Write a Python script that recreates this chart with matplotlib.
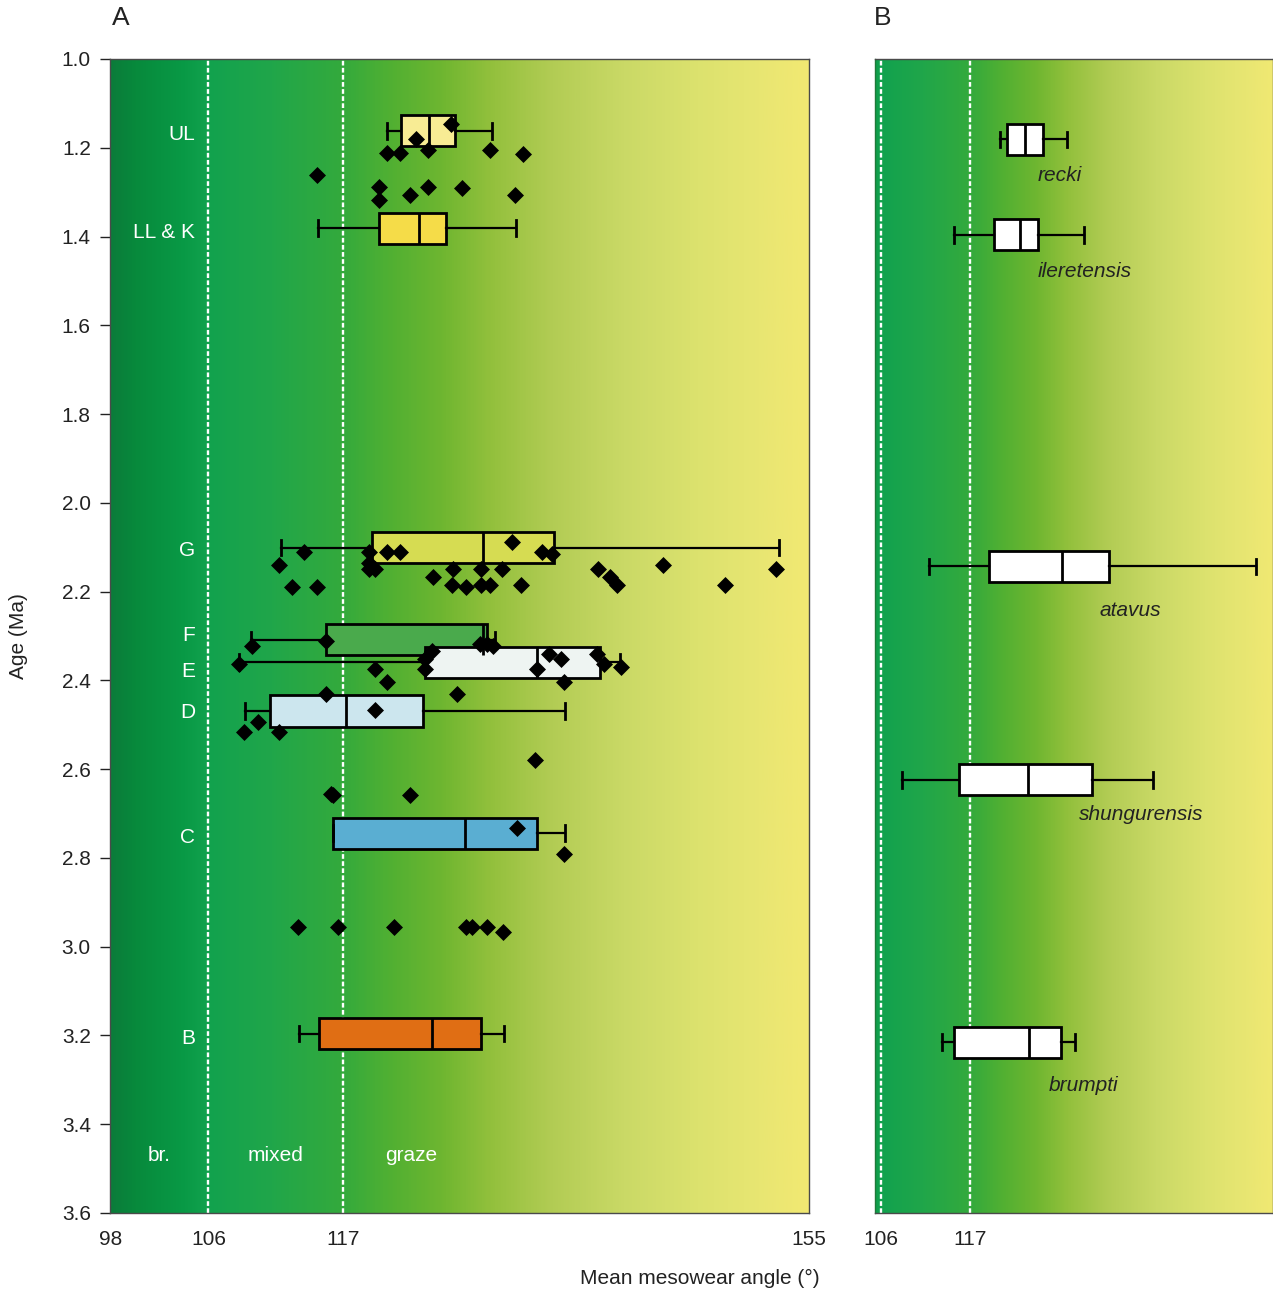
import numpy as np
import matplotlib
matplotlib.use("Agg")
import matplotlib.pyplot as plt
from matplotlib.colors import LinearSegmentedColormap

plt.rcParams['font.family'] = ['Liberation Sans', 'DejaVu Sans']

# --- mesowear summaries per member (panel A) ---
groups_a = ['UL', 'LL & K', 'G', 'F', 'E', 'D', 'C', 'B']
age_a = [1.162, 1.381, 2.101, 2.308, 2.359, 2.469, 2.744, 3.196]
whislo_a = [120.6, 114.9, 111.9, 109.5, 108.5, 109.0, 116.2, 113.4]
q1_a = [121.7, 119.9, 119.3, 115.6, 123.7, 111.0, 116.2, 115.0]
med_a = [124.0, 123.2, 128.4, 128.4, 132.8, 117.2, 126.9, 124.2]
q3_a = [126.1, 125.4, 134.2, 128.7, 137.9, 123.5, 132.8, 128.2]
whishi_a = [129.1, 131.1, 152.5, 129.4, 139.6, 135.1, 135.1, 130.1]
colors_a = ['#f8ec94', '#f5dc48', '#d6dc52', '#4aaa4c', '#eef4f2', '#cce6ee', '#5aaed2', '#e06e14']
label_age_a = [1.170, 1.390, 2.108, 2.298, 2.381, 2.473, 2.754, 3.207]

# individual samples
pts_angle = [125.78, 122.93, 120.59, 121.65, 123.93, 128.96, 131.68, 114.83, 119.89, 119.89,
             122.44, 123.93, 126.68, 130.98,
             113.82, 111.78, 112.79, 114.83, 119.12, 120.59, 121.62, 119.12, 119.12, 119.61,
             124.29, 125.92, 128.23, 129.97, 125.84, 126.98, 128.23, 128.96, 131.47, 130.73,
             133.18, 133.99, 137.74, 138.75, 139.29, 143.10, 148.13, 152.29,
             109.53, 115.59, 128.15, 128.69, 129.23, 124.21,
             108.52, 123.66, 123.66, 119.58, 120.59, 132.77, 133.77, 134.73, 137.71, 138.26,
             139.62, 135.02, 126.25,
             115.59, 119.58, 110.07, 108.93, 111.78,
             132.63, 116.19, 116.00, 122.44, 131.14, 135.02,
             113.28, 116.54, 121.13, 126.98, 127.52, 128.74, 129.99]
pts_age = [1.146, 1.181, 1.211, 1.211, 1.205, 1.205, 1.213, 1.261, 1.288, 1.318,
           1.306, 1.289, 1.290, 1.307,
           2.110, 2.139, 2.190, 2.190, 2.111, 2.111, 2.111, 2.136, 2.150, 2.150,
           2.168, 2.150, 2.150, 2.150, 2.185, 2.190, 2.185, 2.185, 2.185, 2.088,
           2.110, 2.115, 2.150, 2.167, 2.185, 2.139, 2.185, 2.150,
           2.322, 2.311, 2.317, 2.317, 2.322, 2.334,
           2.362, 2.351, 2.375, 2.375, 2.403, 2.375, 2.341, 2.352, 2.341, 2.362,
           2.369, 2.403, 2.431,
           2.431, 2.466, 2.493, 2.517, 2.517,
           2.579, 2.658, 2.655, 2.658, 2.733, 2.791,
           2.955, 2.955, 2.955, 2.955, 2.955, 2.955, 2.967]

# --- species summaries (panel B) ---
species = ['recki', 'ileretensis', 'atavus', 'shungurensis', 'brumpti']
age_b = [1.181, 1.396, 2.143, 2.624, 3.215]
whislo_b = [120.7, 115.0, 111.9, 108.6, 113.5]
q1_b = [121.6, 119.9, 119.3, 115.6, 115.0]
med_b = [123.8, 123.2, 128.3, 124.1, 124.3]
q3_b = [126.0, 125.4, 134.1, 132.1, 128.2]
whishi_b = [129.0, 131.0, 152.3, 139.6, 130.0]
label_x_b = [128.1, 131.1, 136.8, 138.1, 131.0]
label_age_b = [1.263, 1.479, 2.243, 2.702, 3.312]

diet_names = ['br.', 'mixed', 'graze']
diet_x = [102.0, 111.5, 122.5]
diet_bounds = [106, 117]

# browse -> graze background, coloured by angle
stops = [(98, '#0b7c3a'), (100, '#078a3c'), (104, '#099a46'), (106, '#12a24e'),
         (111, '#20a64a'), (117, '#34aa3c'), (121, '#52b032'), (125, '#6eb630'),
         (129, '#92c03c'), (134, '#b2cc54'), (140, '#cad966'), (146, '#dce26e'),
         (151, '#e8e672'), (155, '#f2e972')]
cmap = LinearSegmentedColormap.from_list(
    'diet', [((v - 98) / 57, c) for v, c in stops])


def shade(ax, x0, x1):
    xs = np.linspace(x0, x1, 600)
    ax.imshow(((xs - 98) / 57)[None, :], cmap=cmap, vmin=0, vmax=1, aspect='auto',
              extent=(x0, x1, 3.6, 1.0), zorder=0, interpolation='bilinear')
    for b in diet_bounds:
        ax.axvline(b, color='white', lw=1.7, ls=(0, (2, 1)), zorder=1)


def boxes(ax, ages, lo, q1, med, q3, hi, faces):
    stats = [dict(whislo=a, q1=b, med=c, q3=d, whishi=e, fliers=[])
             for a, b, c, d, e in zip(lo, q1, med, q3, hi)]
    bp = ax.bxp(stats, positions=ages, widths=0.07, orientation='horizontal',
                patch_artist=True, manage_ticks=False, showfliers=False,
                boxprops=dict(edgecolor='black', linewidth=2),
                medianprops=dict(color='black', linewidth=2),
                whiskerprops=dict(color='black', linewidth=1.6),
                capprops=dict(color='black', linewidth=2), zorder=3)
    for patch, fc in zip(bp['boxes'], faces):
        patch.set_facecolor(fc)


fig = plt.figure(figsize=(12.73, 12.91), dpi=100)
axA = fig.add_axes([110.3 / 1273, 1 - 1213 / 1291, 699 / 1273, 1154 / 1291])
axB = fig.add_axes([874.7 / 1273, 1 - 1213 / 1291, 398.3 / 1273, 1154 / 1291])

# panel A
shade(axA, 98, 155)
boxes(axA, age_a, whislo_a, q1_a, med_a, q3_a, whishi_a, colors_a)
axA.scatter(pts_angle, pts_age, marker='D', s=75, color='black', zorder=5, linewidths=0)
for name, y in zip(groups_a, label_age_a):
    axA.text(104.9, y, name, color='white', fontsize=15, ha='right', va='center', zorder=6)
for name, x in zip(diet_names, diet_x):
    axA.text(x, 3.47, name, color='white', fontsize=15, ha='center', va='center', zorder=6)

axA.set_xlim(98, 155)
axA.set_ylim(3.6, 1.0)
axA.set_xticks([98, 106, 117, 155])
axA.set_yticks(np.arange(1.0, 3.61, 0.2))
axA.set_yticklabels([f'{v:.1f}' for v in np.arange(1.0, 3.61, 0.2)])
axA.tick_params(axis='y', length=7, width=1, pad=7, labelsize=15, colors='#222222')
axA.tick_params(axis='x', length=0, pad=12, labelsize=15, colors='#222222')

# panel B
shade(axB, 105.2, 154.4)
boxes(axB, age_b, whislo_b, q1_b, med_b, q3_b, whishi_b, ['white'] * len(species))
for name, x, y in zip(species, label_x_b, label_age_b):
    axB.text(x, y, name, fontsize=15, style='italic', color='#222222',
             ha='center', va='center', zorder=6)
axB.set_xlim(105.2, 154.4)
axB.set_ylim(3.6, 1.0)
axB.set_xticks([106, 117])
axB.set_yticks([])
axB.tick_params(axis='x', length=0, pad=12, labelsize=15, colors='#222222')

for ax in (axA, axB):
    for s in ax.spines.values():
        s.set_color('#4a4a4a')
        s.set_linewidth(1)
        s.set_zorder(7)
axB.spines['left'].set_color('#1f7a3a')

fig.text(121 / 1273, 1 - 18 / 1291, 'A', fontsize=19, ha='center', va='center', color='#222222')
fig.text(883 / 1273, 1 - 18 / 1291, 'B', fontsize=19, ha='center', va='center', color='#222222')
fig.text(18 / 1273, 1 - 636 / 1291, 'Age (Ma)', fontsize=15, rotation=90,
         ha='center', va='center', color='#222222')
fig.text(700 / 1273, 1 - 1278 / 1291, 'Mean mesowear angle (°)', fontsize=15,
         ha='center', va='center', color='#222222')

fig.savefig('out.png', dpi=100)
